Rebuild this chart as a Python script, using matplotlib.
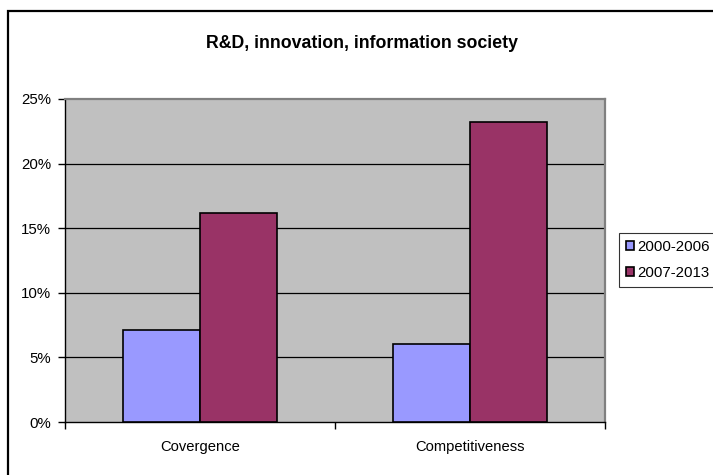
import matplotlib
matplotlib.use('Agg')
import matplotlib.pyplot as plt
from matplotlib.patches import Rectangle
from matplotlib.ticker import FuncFormatter

plt.rcParams['font.family'] = ['Liberation Sans', 'DejaVu Sans']

# data
categories = ['Covergence', 'Competitiveness']
series_names = ['2000-2006', '2007-2013']
values_2000_2006 = [7.1, 6.0]
values_2007_2013 = [16.2, 23.2]
y_ticks = [0, 5, 10, 15, 20, 25]

colors = ['#9999FF', '#993366']

W, H = 713, 475
fig = plt.figure(figsize=(W / 100, H / 100), dpi=100)

# chart area border (runs off right/bottom in the original)
fig.patches.append(Rectangle((8 / W, -0.1), 1.2, 1 - 11 / H + 0.1,
                             transform=fig.transFigure, fill=False,
                             edgecolor='black', linewidth=1.6))

ax = fig.add_axes([65 / W, 1 - 422 / H, 540 / W, 323 / H])
ax.set_facecolor('#C0C0C0')

x = range(len(categories))
bw = 77 / 270
ax.bar([i - bw / 2 for i in x], values_2000_2006, width=bw,
       color=colors[0], edgecolor='black', linewidth=1.2,
       label=series_names[0], zorder=3)
ax.bar([i + bw / 2 for i in x], values_2007_2013, width=bw,
       color=colors[1], edgecolor='black', linewidth=1.2,
       label=series_names[1], zorder=3)

ax.set_xlim(-0.5, len(categories) - 0.5)
ax.set_ylim(0, 25)
ax.set_yticks(y_ticks)
ax.yaxis.set_major_formatter(FuncFormatter(lambda v, p: '%d%%' % v))
for v in y_ticks[1:-1]:
    ax.axhline(v, color='black', linewidth=0.9, zorder=1)

# category boundaries as major ticks, labels on minor ticks
ax.set_xticks([i - 0.5 for i in range(len(categories) + 1)])
ax.set_xticklabels([])
ax.set_xticks(list(x), minor=True)
ax.set_xticklabels(categories, minor=True)
ax.tick_params(axis='x', which='minor', length=0, pad=13, labelsize=10.6)
ax.tick_params(axis='x', which='major', length=5, width=1, direction='out')
ax.tick_params(axis='y', length=5, width=1, direction='out', pad=5,
               labelsize=10.8)

for s in ['top', 'right']:
    ax.spines[s].set_color('#808080')
    ax.spines[s].set_linewidth(1.6)
for s in ['left', 'bottom']:
    ax.spines[s].set_color('black')
    ax.spines[s].set_linewidth(1)

fig.text(362 / W, 1 - 43 / H, 'R&D, innovation, information society',
         ha='center', va='center', fontsize=12.8, fontweight='bold')

leg = fig.legend(loc='upper left', bbox_to_anchor=(619 / W, 1 - 233 / H),
                 fontsize=10.8, frameon=True, fancybox=False,
                 handlelength=0.55, handleheight=0.55, handletextpad=0.2,
                 borderpad=0.45, borderaxespad=0, labelspacing=0.8)
leg.get_frame().set_edgecolor('black')
leg.get_frame().set_linewidth(0.8)

fig.savefig('out.png', dpi=100)
plt.close(fig)
